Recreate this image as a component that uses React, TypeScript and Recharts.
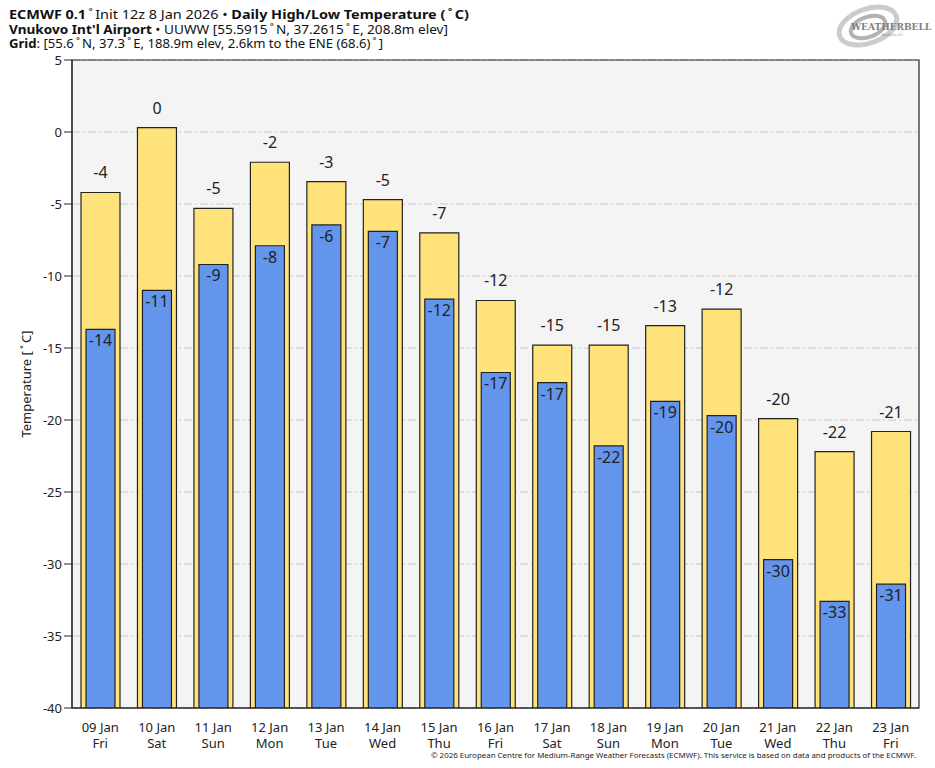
import React from "react";
import { BarChart, Bar, XAxis, YAxis, CartesianGrid, ReferenceArea, LabelList } from "recharts";

// categories
const days = ["09 Jan", "10 Jan", "11 Jan", "12 Jan", "13 Jan", "14 Jan", "15 Jan", "16 Jan", "17 Jan", "18 Jan", "19 Jan", "20 Jan", "21 Jan", "22 Jan", "23 Jan"];
const weekdays = ["Fri", "Sat", "Sun", "Mon", "Tue", "Wed", "Thu", "Fri", "Sat", "Sun", "Mon", "Tue", "Wed", "Thu", "Fri"];

// daily high / low (°C)
const highs = [-4.2, 0.3, -5.3, -2.1, -3.45, -4.7, -7.0, -11.7, -14.8, -14.8, -13.45, -12.3, -19.9, -22.2, -20.8];
const lows = [-13.7, -11.0, -9.2, -7.9, -6.45, -6.9, -11.6, -16.7, -17.4, -21.8, -18.7, -19.7, -29.7, -32.6, -31.4];

const yTicks = [5, 0, -5, -10, -15, -20, -25, -30, -35, -40];
const yMin = -40;
const yMax = 5;

const data = days.map((day, i) => ({
  day,
  hi: highs[i],
  lo: lows[i],
  hiRange: [yMin, highs[i]],
  loRange: [yMin, lows[i]],
}));

const FONT = "'Noto Sans', 'Open Sans', sans-serif";
const DEG = "\u2009˚\u2009";

const DayTick = (props: any) => {
  const { x, y, payload, index } = props;
  return (
    <g>
      <text x={x} y={y + 16} textAnchor="middle" fontSize={13} fill="#222" fontFamily={FONT}>
        {payload.value}
      </text>
      <text x={x} y={y + 32} textAnchor="middle" fontSize={13} fill="#222" fontFamily={FONT}>
        {weekdays[index]}
      </text>
    </g>
  );
};

const box = (props: any) => {
  const vb = props.viewBox && props.viewBox.width != null ? props.viewBox : props;
  return { x: Number(vb.x), y: Number(vb.y), width: Number(vb.width) };
};

const HighLabel = (props: any) => {
  const { x, y, width } = box(props);
  const v = Math.round(highs[props.index]);
  return (
    <text x={x + width / 2} y={y - 14} textAnchor="middle" fontSize={16} fill="#222" fontFamily={FONT}>
      {v === 0 ? "0" : v}
    </text>
  );
};

const LowLabel = (props: any) => {
  const { x, y, width } = box(props);
  const v = Math.round(lows[props.index]);
  return (
    <text x={x + width / 2} y={y + 17} textAnchor="middle" fontSize={16} fill="#222" fontFamily={FONT}>
      {v}
    </text>
  );
};

export default function App() {
  return (
    <div style={{ position: "absolute", left: 0, top: 0, width: 935, height: 768, background: "#fff", fontFamily: FONT }}>
      <BarChart width={935} height={768} data={data} margin={{ top: 60, right: 16, left: 32, bottom: 20 }}>
        <CartesianGrid
          vertical={false}
          fill="#f4f4f4"
          stroke="#c8c8c8"
          strokeDasharray="8 3 2 3"
          horizontalValues={yTicks}
        />
        <XAxis
          dataKey="day"
          interval={0}
          tickLine={false}
          axisLine={{ stroke: "#222" }}
          tick={<DayTick />}
          height={40}
        />
        <XAxis dataKey="day" xAxisId="b" hide />
        <YAxis
          type="number"
          domain={[yMin, yMax]}
          ticks={yTicks}
          interval={0}
          width={40}
          tickSize={8}
          tickMargin={2}
          axisLine={{ stroke: "#222" }}
          tickLine={{ stroke: "#222" }}
          tick={{ fontSize: 13, fill: "#222", fontFamily: FONT }}
          allowDataOverflow
        />
        <Bar dataKey="hiRange" barSize={39} fill="#ffe27a" stroke="#222" strokeWidth={1.2} isAnimationActive={false}>
          <LabelList dataKey="hi" content={<HighLabel />} />
        </Bar>
        <Bar dataKey="loRange" xAxisId="b" barSize={29} fill="#6495ed" stroke="#222" strokeWidth={1.2} isAnimationActive={false}>
          <LabelList dataKey="lo" content={<LowLabel />} />
        </Bar>
        <ReferenceArea y1={yMin} y2={yMax} fill="none" stroke="#222" strokeWidth={1.2} ifOverflow="visible" />
      </BarChart>

      <svg width={935} height={768} style={{ position: "absolute", left: 0, top: 0, pointerEvents: "none" }}>
        <g fontFamily={FONT} fontSize={12.5} fill="#111">
          <text x={9} y={18.5} textLength={460} lengthAdjust="spacingAndGlyphs">
            <tspan fontWeight="bold">ECMWF 0.1</tspan>
            <tspan>{DEG}Init 12z 8 Jan 2026 • </tspan>
            <tspan fontWeight="bold">{"Daily High/Low Temperature (" + DEG + "C)"}</tspan>
          </text>
          <text x={9} y={34} textLength={439} lengthAdjust="spacingAndGlyphs">
            <tspan fontWeight="bold">Vnukovo Int'l Airport</tspan>
            <tspan>{" • UUWW [55.5915" + DEG + "N, 37.2615" + DEG + "E, 208.8m elev]"}</tspan>
          </text>
          <text x={9} y={47.5} textLength={374} lengthAdjust="spacingAndGlyphs">
            <tspan fontWeight="bold">Grid</tspan>
            <tspan>{": [55.6" + DEG + "N, 37.3" + DEG + "E, 188.9m elev, 2.6km to the ENE (68.6)" + DEG + "]"}</tspan>
          </text>
        </g>
        <text
          x={0}
          y={0}
          transform="translate(30.5, 384) rotate(-90)"
          textAnchor="middle"
          fontSize={13}
          fill="#222"
          fontFamily={FONT}
        >
          {"Temperature [" + DEG + "C]"}
        </text>
        <text x={916} y={758} textAnchor="end" fontSize={7.6} fill="#222" fontFamily={FONT} textLength={485} lengthAdjust="spacingAndGlyphs">
          © 2026 European Centre for Medium-Range Weather Forecasts (ECMWF). This service is based on data and products of the ECMWF.
        </text>
        {/* WeatherBELL logo, rough */}
        <g opacity={0.75}>
          <ellipse cx={868} cy={26} rx={30} ry={17} fill="none" stroke="#bbb" strokeWidth={5} transform="rotate(-20 868 26)" />
          <ellipse cx={868} cy={27} rx={18} ry={10} fill="none" stroke="#999" strokeWidth={4} transform="rotate(-20 868 27)" />
          <text x={851} y={30} fontSize={9} fontWeight="bold" fill="#555" fontFamily="'DejaVu Serif', serif">
            WEATHERBELL
          </text>
          <text x={882} y={36} fontSize={3.5} fill="#666" fontFamily={FONT}>
            Analytics LLC
          </text>
        </g>
      </svg>
    </div>
  );
}
